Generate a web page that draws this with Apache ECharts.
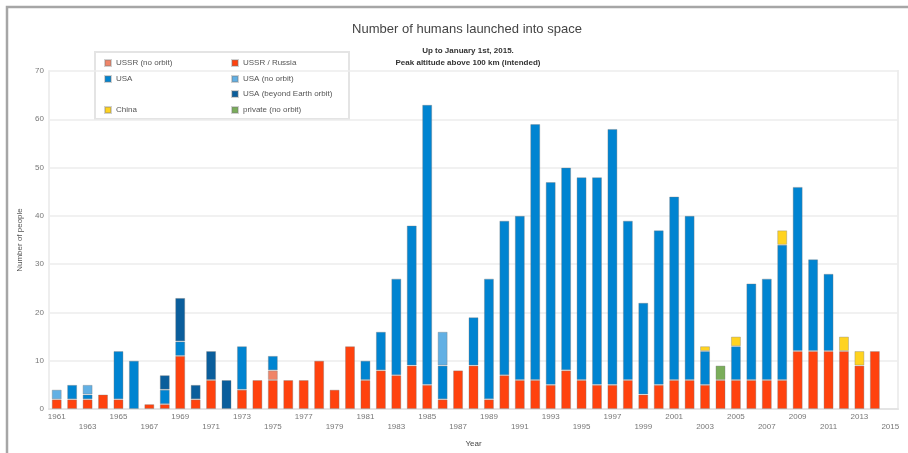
<!DOCTYPE html>
<html>
<head>
<meta charset="utf-8">
<script src="https://cdn.jsdelivr.net/npm/echarts@6/dist/echarts.min.js"></script>
<style>html,body{margin:0;padding:0;background:#fff}#c{width:908px;height:453px}</style>
</head>
<body>
<div id="c"></div>
<script>
var years = [];
for (var y = 1961; y <= 2015; y++) years.push(String(y));

// values per year 1961..2015 (2015 empty)
var ussrRussia = [2,2,2,3,2,0,1,1,11,2,6,0,4,6,6,6,6,10,4,13,6,8,7,9,5,2,8,9,2,7,6,6,5,8,6,5,5,6,3,5,6,6,5,6,6,6,6,6,12,12,12,12,9,12,0];
var ussrNoOrbit = [0,0,0,0,0,0,0,0,0,0,0,0,0,0,2,0,0,0,0,0,0,0,0,0,0,0,0,0,0,0,0,0,0,0,0,0,0,0,0,0,0,0,0,0,0,0,0,0,0,0,0,0,0,0,0];
var usa = [0,3,1,0,10,10,0,3,3,0,0,0,9,0,3,0,0,0,0,0,4,8,20,29,58,7,0,10,25,32,34,53,42,42,42,43,53,33,19,32,38,34,7,0,7,20,21,28,34,19,16,0,0,0,0];
var usaNoOrbit = [2,0,2,0,0,0,0,0,0,0,0,0,0,0,0,0,0,0,0,0,0,0,0,0,0,7,0,0,0,0,0,0,0,0,0,0,0,0,0,0,0,0,0,0,0,0,0,0,0,0,0,0,0,0,0];
var usaBeyond = [0,0,0,0,0,0,0,3,9,3,6,6,0,0,0,0,0,0,0,0,0,0,0,0,0,0,0,0,0,0,0,0,0,0,0,0,0,0,0,0,0,0,0,0,0,0,0,0,0,0,0,0,0,0,0];
var china = [0,0,0,0,0,0,0,0,0,0,0,0,0,0,0,0,0,0,0,0,0,0,0,0,0,0,0,0,0,0,0,0,0,0,0,0,0,0,0,0,0,0,1,0,2,0,0,3,0,0,0,3,3,0,0];
var privateNoOrbit = [0,0,0,0,0,0,0,0,0,0,0,0,0,0,0,0,0,0,0,0,0,0,0,0,0,0,0,0,0,0,0,0,0,0,0,0,0,0,0,0,0,0,0,3,0,0,0,0,0,0,0,0,0,0,0];

var yTicks = [0,10,20,30,40,50,60,70];

var seriesDefs = [
  {name:'USSR / Russia', data: ussrRussia, color:'#ff420e'},
  {name:'USSR (no orbit)', data: ussrNoOrbit, color:'#f08468'},
  {name:'USA', data: usa, color:'#0084d1'},
  {name:'USA (no orbit)', data: usaNoOrbit, color:'#62b0e4'},
  {name:'USA (beyond Earth orbit)', data: usaBeyond, color:'#0a5e9c'},
  {name:'China', data: china, color:'#ffd320'},
  {name:'private (no orbit)', data: privateNoOrbit, color:'#7aad5a'}
];

var legendPlaces = [
  {name:'USSR (no orbit)', left:104, top:58},
  {name:'USSR / Russia', left:231, top:58},
  {name:'USA', left:104, top:74},
  {name:'USA (no orbit)', left:231, top:74},
  {name:'USA (beyond Earth orbit)', left:231, top:89},
  {name:'China', left:104, top:105},
  {name:'private (no orbit)', left:231, top:105}
];

var chart = echarts.init(document.getElementById('c'));
var fontFam = '"Liberation Sans", Arial, sans-serif';

var option = {
  animation: false,
  textStyle: {fontFamily: fontFam},
  title: [
    {text:'Number of humans launched into space', left:462, top:18, textAlign:'center',
     textStyle:{fontSize:13, fontWeight:'normal', color:'#444', fontFamily: fontFam}},
    {text:'Up to January 1st, 2015.\nPeak altitude above 100 km (intended)', left:463, top:40, textAlign:'center',
     textStyle:{fontSize:8, fontWeight:'bold', color:'#333', lineHeight:12, fontFamily: fontFam}}
  ],
  legend: legendPlaces.map(function(p){
    return {data:[p.name], left:p.left, top:p.top, orient:'horizontal', icon:'rect',
      itemWidth:6, itemHeight:6, itemGap:4, padding:0, selectedMode:false,
      textStyle:{fontSize:8, color:'#555', lineHeight:10, fontFamily: fontFam}};
  }),
  grid: {left:49, right:10, top:71, bottom:43, containLabel:false},
  xAxis: {
    type:'category', data: years, boundaryGap:true,
    name:'Year', nameLocation:'middle', nameGap:31,
    nameTextStyle:{fontSize:8, color:'#444'},
    axisLine:{show:true, lineStyle:{color:'#e4e4e4', width:2}},
    axisTick:{show:false},
    axisLabel:{interval:1, fontSize:8, color:'#777', margin:3, lineHeight:10,
      formatter:function(v, i){ return (i % 4 === 0) ? v : '\n' + v; }}
  },
  yAxis: {
    type:'value', min:yTicks[0], max:yTicks[yTicks.length-1], interval:10,
    name:'Number of people', nameLocation:'middle', nameGap:23, nameRotate:90,
    nameTextStyle:{fontSize:8, color:'#555'},
    axisLine:{show:true, lineStyle:{color:'#eeeeee', width:2}},
    axisTick:{show:false},
    axisLabel:{fontSize:8, color:'#777', margin:5},
    splitLine:{show:true, lineStyle:{color:'#ececec', width:1.5}}
  },
  graphic: [
    {type:'rect', shape:{x:7, y:7, width:920, height:470}, style:{fill:'none', stroke:'#a6a6a6', lineWidth:2.5}, silent:true, z:100},
    {type:'rect', shape:{x:95, y:52, width:254, height:67}, style:{fill:'#fff', stroke:'#e4e4e4', lineWidth:2}, silent:true, z:-1},
    {type:'line', shape:{x1:898, y1:70, x2:898, y2:410}, style:{stroke:'#eeeeee', lineWidth:2}, silent:true}
  ],
  series: seriesDefs.map(function(s){
    return {
      name: s.name, type:'bar', stack:'total', data: s.data.map(function(v){ return v === 0 ? '-' : v; }),
      barWidth: 10,
      itemStyle:{color:s.color, borderColor:'rgba(120,120,120,0.35)', borderWidth:1},
      emphasis:{disabled:true}
    };
  })
};
chart.setOption(option);
</script>
</body>
</html>
